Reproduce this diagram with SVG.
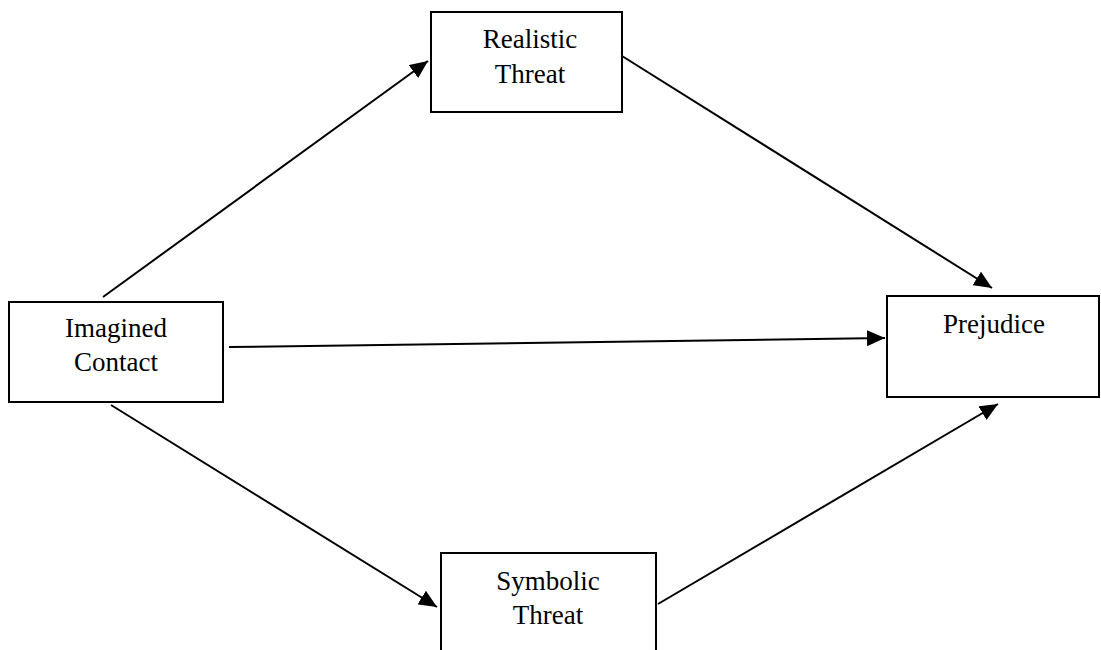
<svg xmlns="http://www.w3.org/2000/svg" width="1101" height="650" viewBox="0 0 1101 650">
<style>
.box{fill:#fff;stroke:#000;stroke-width:2}
.lbl{font-family:"Liberation Serif","Times New Roman",serif;font-size:27px;fill:#000;text-anchor:middle}
.edge{stroke:#000;stroke-width:2;fill:none;marker-end:url(#ah)}
</style>
<defs>
<marker id="ah" markerUnits="userSpaceOnUse" markerWidth="20" markerHeight="16" refX="18" refY="8" orient="auto">
<path d="M0,0 L18,8 L0,16 z" fill="#000"/>
</marker>
</defs>
<rect width="1101" height="650" fill="#fff"/>
<g id="connectors">
<line class="edge" x1="103" y1="297" x2="428" y2="61"/>
<line class="edge" x1="622" y1="56" x2="992" y2="288"/>
<line class="edge" x1="229" y1="347" x2="885" y2="338"/>
<line class="edge" x1="111" y1="405" x2="437" y2="607"/>
<line class="edge" x1="658" y1="604" x2="998" y2="404"/>
</g>
<g id="realistic">
<rect class="box" x="431" y="12" width="191" height="100"/>
<text class="lbl" x="530" y="48">Realistic</text>
<text class="lbl" x="530" y="83">Threat</text>
</g>
<g id="imagined">
<rect class="box" x="9" y="302" width="214" height="100"/>
<text class="lbl" x="116" y="337">Imagined</text>
<text class="lbl" x="116" y="371">Contact</text>
</g>
<g id="prejudice">
<rect class="box" x="887" y="296" width="212" height="101"/>
<text class="lbl" x="994" y="333">Prejudice</text>
</g>
<g id="symbolic">
<rect class="box" x="441" y="553" width="215" height="110"/>
<text class="lbl" x="548" y="590">Symbolic</text>
<text class="lbl" x="548" y="624">Threat</text>
</g>
</svg>
